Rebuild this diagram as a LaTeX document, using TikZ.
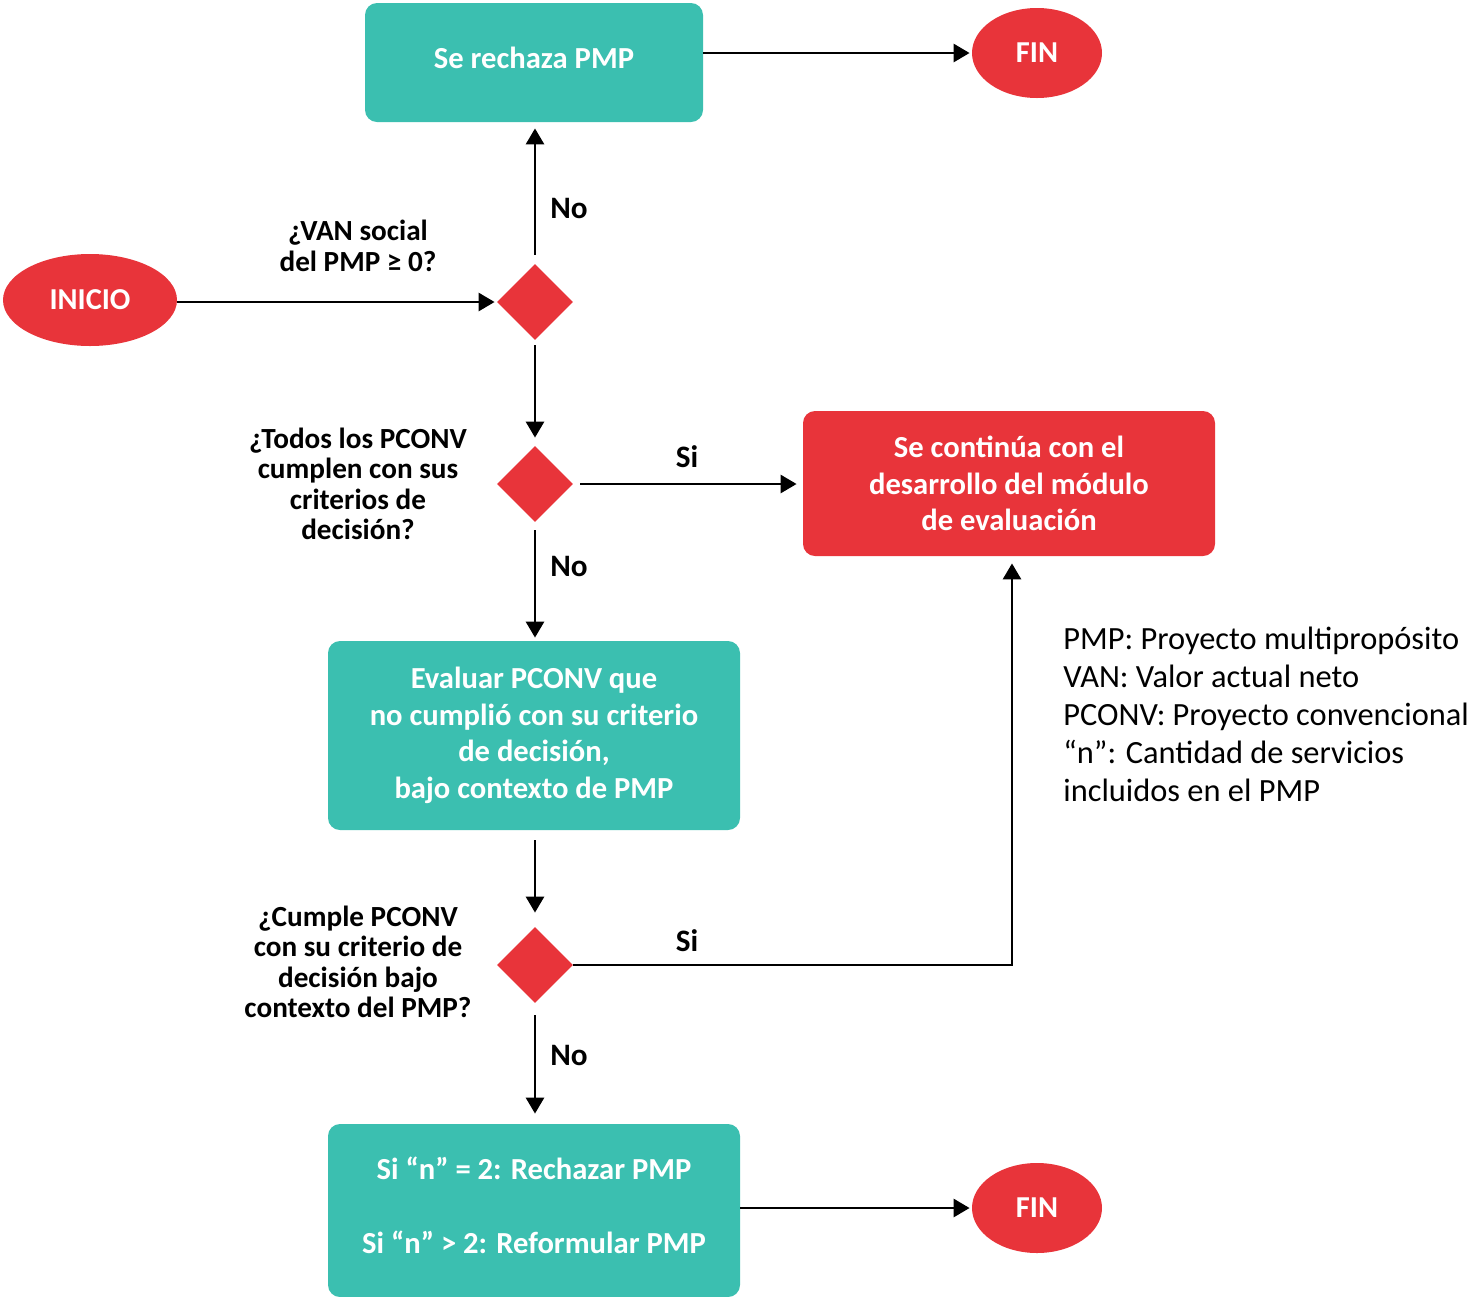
\documentclass[tikz,border=0pt]{standalone}
\usepackage{fontspec}
\setmainfont{Carlito}
\usetikzlibrary{shapes.geometric,arrows.meta}
\definecolor{teal1}{RGB}{59,191,176}
\definecolor{red1}{RGB}{232,52,58}
\begin{document}
\begin{tikzpicture}[x=0.5pt,y=-0.5pt,
 box/.style={draw=none,fill=teal1,rounded corners=6pt,text=white,font=\bfseries\fontsize{15.3}{18.3}\selectfont,align=center,inner sep=0pt},
 redbox/.style={box,fill=red1},
 term/.style={ellipse,fill=red1,text=white,font=\bfseries\fontsize{15.2}{17}\selectfont,inner sep=0pt},
 dec/.style={diamond,fill=red1,minimum width=38pt,minimum height=38pt,inner sep=0pt,aspect=1},
 lab/.style={font=\bfseries\fontsize{14.6}{15.25}\selectfont,align=center},
 yn/.style={font=\bfseries\fontsize{15.6}{17}\selectfont},
 arr/.style={line width=1.4pt,-{Triangle[length=8pt,width=9pt]}}]
\useasboundingbox (0,0) rectangle (1469,1297);
\node[box,minimum width=169pt,minimum height=59.5pt] (rej) at (534,62.5) {Se rechaza PMP\rule[-5.2pt]{0pt}{0pt}};
\node[term,minimum width=65pt,minimum height=45pt] (fin1) at (1037,53) {FIN};
\node[term,minimum width=87pt,minimum height=46pt] (ini) at (90,300) {INICIO};
\node[dec] (d1) at (535,302) {};
\node[dec] (d2) at (535,484) {};
\node[redbox,minimum width=206pt,minimum height=72.5pt] (cont) at (1009,483.5) {Se continúa con el\\desarrollo del módulo\\de evaluación};
\node[box,minimum width=206pt,minimum height=94.5pt] (eval) at (534,735.5) {Evaluar PCONV que\\no cumplió con su criterio\\de decisión,\\bajo contexto de PMP};
\node[dec] (d3) at (535,965) {};
\node[box,minimum width=206pt,minimum height=86.5pt] (last) at (534,1210.5) {Si “n” = 2: Rechazar PMP\\[18.7pt]Si “n” > 2: Reformular PMP\rule[-5.8pt]{0pt}{0pt}};
\node[term,minimum width=65pt,minimum height=45pt] (fin2) at (1037,1208) {FIN};

\node[lab] (q1) at (358,246) {¿VAN social\\del PMP ≥ 0?};
\node[lab] (q2) at (358,484) {¿Todos los PCONV\\cumplen con sus\\criterios de\\decisión?};
\node[lab] (q3) at (358,962) {¿Cumple PCONV\\con su criterio de\\decisión bajo\\contexto del PMP?};
\node[yn] (no1) at (569,208) {No};
\node[yn] (si1) at (687,457) {Si};
\node[yn] (no2) at (569,566) {No};
\node[yn] (si2) at (687,941) {Si};
\node[yn] (no3) at (569,1055) {No};

\node[anchor=north west,align=left,font=\fontsize{16.2}{19}\selectfont,inner sep=0pt] (leg) at (1063,627)
 {PMP: Proyecto multipropósito\\VAN: Valor actual neto\\PCONV: Proyecto convencional\\“n”: Cantidad de servicios\\incluidos en el PMP};

\draw[arr,shorten >=1pt] (ini.east |- d1.west) -- (d1.west);
\draw[arr,shorten <=4.5pt,shorten >=3pt] (d1.north) -- (d1.north |- rej.south);
\draw[arr,shorten <=2.5pt,shorten >=4pt] (d1.south) -- (d2.north);
\draw[arr,shorten <=3.5pt,shorten >=3pt] (d2.east) -- (cont.west |- d2.east);
\draw[arr,shorten <=4pt,shorten >=1.5pt] (d2.south) -- (d2.south |- eval.north);
\draw[arr,shorten <=5pt,shorten >=7pt] (eval.south -| d3) -- (d3.north);
\draw[arr,shorten >=3.5pt] (d3.east) -| ([xshift=1.5pt]cont.south);
\draw[arr,shorten <=6pt,shorten >=5pt] (d3.south) -- (d3.south |- last.north);
\draw[arr,shorten >=1pt] (rej.east |- fin1.west) -- (fin1.west);
\draw[arr,shorten >=1pt] (last.east |- fin2.west) -- (fin2.west);
\end{tikzpicture}
\end{document}
